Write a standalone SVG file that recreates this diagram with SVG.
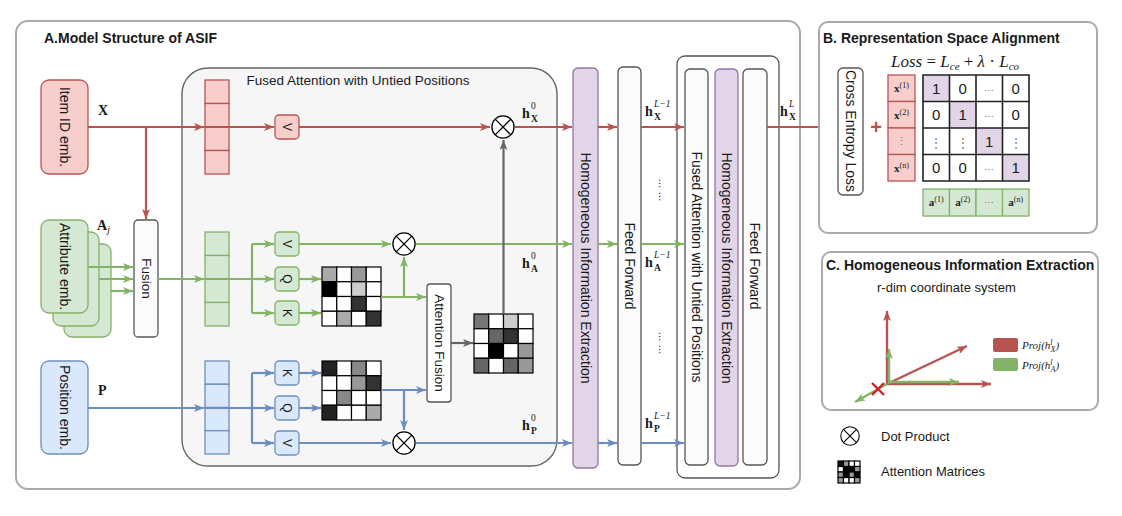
<svg xmlns="http://www.w3.org/2000/svg" width="1122" height="516" viewBox="0 0 1122 516">
<defs>
<style>
text{font-family:"Liberation Sans",Arial,sans-serif;fill:#1a1a1a}
.rot{text-anchor:middle;dominant-baseline:central}
.t14{font-size:14px}
.bold{font-weight:bold}
.serif{font-family:"Liberation Serif","Times New Roman",serif}
.red{fill:#f8cecc;stroke:#b85450;stroke-width:1.3}
.grn{fill:#d5e8d4;stroke:#82b366;stroke-width:1.3}
.blu{fill:#dae8fc;stroke:#6c8ebf;stroke-width:1.3}
.pur{fill:#e1d5e7;stroke:#9673a6;stroke-width:1.3}
.wht{fill:#fbfbfb;stroke:#555;stroke-width:1.3}
.lr{stroke:#b85450;stroke-width:2.2;fill:none}
.lg{stroke:#82b366;stroke-width:2.2;fill:none}
.lb{stroke:#6c8ebf;stroke-width:2.2;fill:none}
.lk{stroke:#666;stroke-width:2.2;fill:none}
.mc rect{stroke:#000;stroke-width:1.2}
.dot{fill:#fff;stroke:#000;stroke-width:1.4}
.panel{fill:#fff;stroke:#aaa;stroke-width:2}
</style>
<marker id="aR" viewBox="0 0 10 8" refX="10" refY="4" markerWidth="10" markerHeight="8" markerUnits="userSpaceOnUse" orient="auto"><path d="M0,0 L10,4 L0,8 L2.5,4 z" fill="#b85450"/></marker>
<marker id="aG" viewBox="0 0 10 8" refX="10" refY="4" markerWidth="10" markerHeight="8" markerUnits="userSpaceOnUse" orient="auto"><path d="M0,0 L10,4 L0,8 L2.5,4 z" fill="#82b366"/></marker>
<marker id="aB" viewBox="0 0 10 8" refX="10" refY="4" markerWidth="10" markerHeight="8" markerUnits="userSpaceOnUse" orient="auto"><path d="M0,0 L10,4 L0,8 L2.5,4 z" fill="#6c8ebf"/></marker>
<marker id="aK" viewBox="0 0 10 8" refX="10" refY="4" markerWidth="10" markerHeight="8" markerUnits="userSpaceOnUse" orient="auto"><path d="M0,0 L10,4 L0,8 L2.5,4 z" fill="#666"/></marker>
<symbol id="dotp" viewBox="-13 -13 26 26" overflow="visible"><circle r="12" class="dot"/><path d="M-8.5,-8.5 L8.5,8.5 M8.5,-8.5 L-8.5,8.5" stroke="#000" stroke-width="1.4"/></symbol>
</defs>
<rect width="1122" height="516" fill="#fff"/>

<!-- Panel A -->
<g id="panelA">
<rect x="16" y="21" width="784" height="468" rx="12" class="panel"/>
<text x="44" y="43" class="t14 bold">A.Model Structure of ASIF</text>
</g>
<g id="fusedAttention">
<rect x="182" y="68" width="375" height="398" rx="26" fill="#f6f6f6" stroke="#666" stroke-width="1.4"/>
<text x="358" y="85" text-anchor="middle" style="font-size:13.5px">Fused Attention with Untied Positions</text>
</g>

<g id="itemEmb">
<rect x="41" y="80" width="47" height="94" rx="8" class="red"/>
<text transform="translate(64.5,127) rotate(90)" class="rot t14">Item ID emb.</text>
<text x="98" y="115" class="serif bold t14">X</text>
</g>
<g id="attrEmb">
<rect x="64" y="244" width="47" height="93" rx="8" class="grn"/>
<rect x="53" y="232" width="46" height="94" rx="8" class="grn"/>
<rect x="41" y="220" width="47" height="93" rx="8" class="grn"/>
<text transform="translate(64.5,266.5) rotate(90)" class="rot t14">Attribute emb.</text>
<text x="97" y="230" class="serif bold t14">A<tspan font-style="italic" font-weight="normal" font-size="10" dy="3">j</tspan></text>
</g>
<g id="posEmb">
<rect x="41" y="361" width="47" height="93" rx="8" class="blu"/>
<text transform="translate(64.5,407.5) rotate(90)" class="rot t14">Position emb.</text>
<text x="98" y="395" class="serif bold t14">P</text>
</g>
<g id="fusion">
<rect x="134" y="220" width="24" height="117" rx="4" class="wht" fill="#fff"/>
<text transform="translate(146,278.5) rotate(90)" class="rot" style="font-size:13.5px">Fusion</text>
</g>

<g id="vecX">
<rect x="205" y="80" width="24" height="23.5" class="red"/><rect x="205" y="103.5" width="24" height="23.5" class="red"/><rect x="205" y="127" width="24" height="23.5" class="red"/><rect x="205" y="150.5" width="24" height="23.5" class="red"/>
</g>
<g id="vecA">
<rect x="205" y="232" width="24" height="23.5" class="grn"/><rect x="205" y="255.5" width="24" height="23.5" class="grn"/><rect x="205" y="279" width="24" height="23.5" class="grn"/><rect x="205" y="302.5" width="24" height="23.5" class="grn"/>
</g>
<g id="vecP">
<rect x="205" y="361" width="24" height="23.25" class="blu"/><rect x="205" y="384.25" width="24" height="23.25" class="blu"/><rect x="205" y="407.5" width="24" height="23.25" class="blu"/><rect x="205" y="430.75" width="24" height="23.25" class="blu"/>
</g>

<g id="qkv">
<rect x="275" y="115" width="24" height="24" rx="4" class="red"/><text transform="translate(287,127) rotate(90)" class="rot" font-size="12">V</text>
<rect x="275" y="232" width="24" height="24" rx="4" class="grn"/><text transform="translate(287,244) rotate(90)" class="rot" font-size="12">V</text>
<rect x="275" y="267" width="24" height="24" rx="4" class="grn"/><text transform="translate(287,279) rotate(90)" class="rot" font-size="12">Q</text>
<rect x="275" y="301" width="24" height="24" rx="4" class="grn"/><text transform="translate(287,313) rotate(90)" class="rot" font-size="12">K</text>
<rect x="275" y="361" width="24" height="24" rx="4" class="blu"/><text transform="translate(287,373) rotate(90)" class="rot" font-size="12">K</text>
<rect x="275" y="396" width="24" height="24" rx="4" class="blu"/><text transform="translate(287,408) rotate(90)" class="rot" font-size="12">Q</text>
<rect x="275" y="431" width="24" height="24" rx="4" class="blu"/><text transform="translate(287,443) rotate(90)" class="rot" font-size="12">V</text>
</g>

<g id="matA" class="mc" transform="translate(322,267)">
<rect x="0" y="0" width="14.75" height="14.75" fill="#aaa"/><rect x="14.75" y="0" width="14.75" height="14.75" fill="#fff"/><rect x="29.5" y="0" width="14.75" height="14.75" fill="#999"/><rect x="44.25" y="0" width="14.75" height="14.75" fill="#fff"/>
<rect x="0" y="14.75" width="14.75" height="14.75" fill="#000"/><rect x="14.75" y="14.75" width="14.75" height="14.75" fill="#fff"/><rect x="29.5" y="14.75" width="14.75" height="14.75" fill="#ccc"/><rect x="44.25" y="14.75" width="14.75" height="14.75" fill="#fff"/>
<rect x="0" y="29.5" width="14.75" height="14.75" fill="#fff"/><rect x="14.75" y="29.5" width="14.75" height="14.75" fill="#fff"/><rect x="29.5" y="29.5" width="14.75" height="14.75" fill="#333"/><rect x="44.25" y="29.5" width="14.75" height="14.75" fill="#fff"/>
<rect x="0" y="44.25" width="14.75" height="14.75" fill="#fff"/><rect x="14.75" y="44.25" width="14.75" height="14.75" fill="#aaa"/><rect x="29.5" y="44.25" width="14.75" height="14.75" fill="#fff"/><rect x="44.25" y="44.25" width="14.75" height="14.75" fill="#333"/>
</g>
<g id="matP" class="mc" transform="translate(322,361)">
<rect x="0" y="0" width="14.75" height="14.75" fill="#222"/><rect x="14.75" y="0" width="14.75" height="14.75" fill="#fff"/><rect x="29.5" y="0" width="14.75" height="14.75" fill="#888"/><rect x="44.25" y="0" width="14.75" height="14.75" fill="#fff"/>
<rect x="0" y="14.75" width="14.75" height="14.75" fill="#fff"/><rect x="14.75" y="14.75" width="14.75" height="14.75" fill="#fff"/><rect x="29.5" y="14.75" width="14.75" height="14.75" fill="#999"/><rect x="44.25" y="14.75" width="14.75" height="14.75" fill="#333"/>
<rect x="0" y="29.5" width="14.75" height="14.75" fill="#fff"/><rect x="14.75" y="29.5" width="14.75" height="14.75" fill="#888"/><rect x="29.5" y="29.5" width="14.75" height="14.75" fill="#fff"/><rect x="44.25" y="29.5" width="14.75" height="14.75" fill="#fff"/>
<rect x="0" y="44.25" width="14.75" height="14.75" fill="#222"/><rect x="14.75" y="44.25" width="14.75" height="14.75" fill="#fff"/><rect x="29.5" y="44.25" width="14.75" height="14.75" fill="#fff"/><rect x="44.25" y="44.25" width="14.75" height="14.75" fill="#aaa"/>
</g>
<g id="matF" class="mc" transform="translate(474,314)">
<rect x="0" y="0" width="14.75" height="14.75" fill="#777"/><rect x="14.75" y="0" width="14.75" height="14.75" fill="#fff"/><rect x="29.5" y="0" width="14.75" height="14.75" fill="#ccc"/><rect x="44.25" y="0" width="14.75" height="14.75" fill="#fff"/>
<rect x="0" y="14.75" width="14.75" height="14.75" fill="#fff"/><rect x="14.75" y="14.75" width="14.75" height="14.75" fill="#666"/><rect x="29.5" y="14.75" width="14.75" height="14.75" fill="#333"/><rect x="44.25" y="14.75" width="14.75" height="14.75" fill="#fff"/>
<rect x="0" y="29.5" width="14.75" height="14.75" fill="#fff"/><rect x="14.75" y="29.5" width="14.75" height="14.75" fill="#000"/><rect x="29.5" y="29.5" width="14.75" height="14.75" fill="#fff"/><rect x="44.25" y="29.5" width="14.75" height="14.75" fill="#999"/>
<rect x="0" y="44.25" width="14.75" height="14.75" fill="#666"/><rect x="14.75" y="44.25" width="14.75" height="14.75" fill="#fff"/><rect x="29.5" y="44.25" width="14.75" height="14.75" fill="#666"/><rect x="44.25" y="44.25" width="14.75" height="14.75" fill="#999"/>
</g>

<g id="attnFusion">
<rect x="427" y="284" width="24" height="118" rx="3" fill="#fff" stroke="#555" stroke-width="1.3"/>
<text transform="translate(439,343) rotate(90)" class="rot" style="font-size:13.5px">Attention Fusion</text>
</g>

<g id="hie1">
<rect x="573" y="68" width="25" height="400" rx="5" class="pur"/>
<text transform="translate(585.5,268) rotate(90)" class="rot t14">Homogeneous Information Extraction</text>
</g>
<g id="ff1">
<rect x="618" y="67" width="23" height="398" rx="5" class="wht"/>
<text transform="translate(629.5,266) rotate(90)" class="rot t14">Feed Forward</text>
</g>
<g id="layerL">
<rect x="677" y="56" width="102" height="422" rx="8" fill="#fff" stroke="#555" stroke-width="1.3"/>
<rect x="685" y="69" width="23" height="396" rx="5" class="wht"/>
<text transform="translate(696.5,267) rotate(90)" class="rot t14">Fused Attention with Untied Positions</text>
<rect x="715" y="69" width="23" height="397" rx="5" class="pur"/>
<text transform="translate(726.5,268) rotate(90)" class="rot t14">Homogeneous Information Extraction</text>
<rect x="743" y="69" width="24" height="396" rx="5" class="wht"/>
<text transform="translate(755,266) rotate(90)" class="rot t14">Feed Forward</text>
</g>

<g id="dots">
<use href="#dotp" x="491" y="115" width="24" height="24"/>
<use href="#dotp" x="392" y="232" width="24" height="24"/>
<use href="#dotp" x="392" y="431" width="24" height="24"/>
</g>

<g id="hlabels" class="serif">
<text x="522" y="118" class="serif bold t14">h</text><text x="531" y="109" class="serif" font-size="9.5">0</text><text x="531" y="122" class="serif bold" font-size="9.5">X</text>
<text x="522" y="268" class="serif bold t14">h</text><text x="531" y="259" class="serif" font-size="9.5">0</text><text x="531" y="272" class="serif bold" font-size="9.5">A</text>
<text x="522" y="430" class="serif bold t14">h</text><text x="531" y="421" class="serif" font-size="9.5">0</text><text x="531" y="434" class="serif bold" font-size="9.5">P</text>
<text x="645" y="116" class="serif bold t14">h</text><text x="654" y="107" class="serif" font-size="9.5" font-style="italic">L−1</text><text x="654" y="120" class="serif bold" font-size="9.5">X</text>
<text x="645" y="267" class="serif bold t14">h</text><text x="654" y="258" class="serif" font-size="9.5" font-style="italic">L−1</text><text x="654" y="271" class="serif bold" font-size="9.5">A</text>
<text x="645" y="428" class="serif bold t14">h</text><text x="654" y="419" class="serif" font-size="9.5" font-style="italic">L−1</text><text x="654" y="432" class="serif bold" font-size="9.5">P</text>
<text x="780" y="116" class="serif bold t14">h</text><text x="789" y="107" class="serif" font-size="9.5" font-style="italic">L</text><text x="789" y="120" class="serif bold" font-size="9.5">X</text>
<text transform="translate(662,190) rotate(90)" class="rot" font-size="10">… …</text>
<text transform="translate(662,343) rotate(90)" class="rot" font-size="10">… …</text>
</g>

<!-- Connectors -->
<g id="connectors">
<path class="lr" d="M88,127 H204" marker-end="url(#aR)"/>
<path class="lr" d="M205,127 H274" marker-end="url(#aR)"/>
<path class="lr" d="M146,127 V219" marker-end="url(#aR)"/>
<path class="lr" d="M299,127 H490" marker-end="url(#aR)"/>
<path class="lr" d="M515,127 H572" marker-end="url(#aR)"/>
<path class="lr" d="M598,127 H617" marker-end="url(#aR)"/>
<path class="lr" d="M641,127 H684" marker-end="url(#aR)"/>
<path class="lr" d="M767,127 H837" marker-end="url(#aR)"/>

<path class="lg" d="M88,267 H133" marker-end="url(#aG)"/>
<path class="lg" d="M99,279 H133" marker-end="url(#aG)"/>
<path class="lg" d="M111,291 H133" marker-end="url(#aG)"/>
<path class="lg" d="M158,279 H204" marker-end="url(#aG)"/>
<path class="lg" d="M205,279 H252 M252,244 V313"/>
<path class="lg" d="M252,244 H274" marker-end="url(#aG)"/>
<path class="lg" d="M252,279 H274" marker-end="url(#aG)"/>
<path class="lg" d="M252,313 H274" marker-end="url(#aG)"/>
<path class="lg" d="M299,244 H391" marker-end="url(#aG)"/>
<path class="lg" d="M416,244 H572" marker-end="url(#aG)"/>
<path class="lg" d="M299,279 H321" marker-end="url(#aG)"/>
<path class="lg" d="M299,313 H321" marker-end="url(#aG)"/>
<path class="lg" d="M381,297 H426" marker-end="url(#aG)"/>
<path class="lg" d="M404,297 V257" marker-end="url(#aG)"/>
<path class="lg" d="M598,244 H617" marker-end="url(#aG)"/>
<path class="lg" d="M641,244 H684" marker-end="url(#aG)"/>

<path class="lb" d="M88,408 H204" marker-end="url(#aB)"/>
<path class="lb" d="M205,408 H252 M252,373 V443"/>
<path class="lb" d="M252,373 H274" marker-end="url(#aB)"/>
<path class="lb" d="M252,408 H274" marker-end="url(#aB)"/>
<path class="lb" d="M252,443 H274" marker-end="url(#aB)"/>
<path class="lb" d="M299,373 H321" marker-end="url(#aB)"/>
<path class="lb" d="M299,408 H321" marker-end="url(#aB)"/>
<path class="lb" d="M381,390 H426" marker-end="url(#aB)"/>
<path class="lb" d="M404,390 V430" marker-end="url(#aB)"/>
<path class="lb" d="M299,443 H391" marker-end="url(#aB)"/>
<path class="lb" d="M416,443 H572" marker-end="url(#aB)"/>
<path class="lb" d="M598,443 H617" marker-end="url(#aB)"/>
<path class="lb" d="M641,443 H684" marker-end="url(#aB)"/>

<path class="lk" d="M451,343 H473" marker-end="url(#aK)"/>
<path class="lk" d="M503.5,314 V140" marker-end="url(#aK)"/>
</g>

<!-- Panel B -->
<g id="panelB">
<rect x="819" y="22" width="278" height="211" rx="9" class="panel"/>
<text x="823" y="43" class="t14 bold">B. Representation Space Alignment</text>
<text x="891" y="67" class="serif" font-size="17"><tspan font-style="italic">Loss</tspan> = <tspan font-style="italic">L</tspan><tspan font-style="italic" font-size="11" dy="3">ce</tspan><tspan dy="-3"> + </tspan><tspan font-style="italic">λ</tspan> · <tspan font-style="italic">L</tspan><tspan font-style="italic" font-size="11" dy="3">co</tspan></text>
</g>
<g id="crossEntropy">
<rect x="838" y="68" width="25" height="127" rx="5" fill="#fff" stroke="#555" stroke-width="1.3"/>
<text transform="translate(850.5,131) rotate(90)" class="rot t14">Cross Entropy Loss</text>
</g>
<text x="876" y="134" text-anchor="middle" font-size="20" font-weight="bold" style="fill:#b85450">+</text>
<g id="xcol">
<rect x="888" y="75" width="27" height="26.5" class="red"/><rect x="888" y="101.5" width="27" height="26.5" class="red"/><rect x="888" y="128" width="27" height="26.5" class="red"/><rect x="888" y="154.5" width="27" height="26.5" class="red"/>
<text x="901.5" y="92" text-anchor="middle" class="serif" font-size="11"><tspan font-weight="bold">x</tspan><tspan font-size="8" dy="-4">(1)</tspan></text>
<text x="901.5" y="118.5" text-anchor="middle" class="serif" font-size="11"><tspan font-weight="bold">x</tspan><tspan font-size="8" dy="-4">(2)</tspan></text>
<text x="901.5" y="145" text-anchor="middle" class="serif" font-size="11" style="fill:#777">⋮</text>
<text x="901.5" y="171.5" text-anchor="middle" class="serif" font-size="11"><tspan font-weight="bold">x</tspan><tspan font-size="8" dy="-4">(n)</tspan></text>
</g>
<g id="simMatrix">
<rect x="923" y="75" width="26.5" height="26.5" fill="#e1d5e7"/>
<rect x="949.5" y="101.5" width="26.5" height="26.5" fill="#e1d5e7"/>
<rect x="976" y="128" width="26.5" height="26.5" fill="#e1d5e7"/>
<rect x="1002.5" y="154.5" width="26.5" height="26.5" fill="#e1d5e7"/>
<path d="M923,75 H1029 V181 H923 Z M949.5,75 V181 M976,75 V181 M1002.5,75 V181 M923,101.5 H1029 M923,128 H1029 M923,154.5 H1029" fill="none" stroke="#222" stroke-width="1.6"/>
<g font-size="15" text-anchor="middle">
<text x="936.25" y="93.5">1</text><text x="962.75" y="93.5">0</text><text x="989.25" y="93.5" font-size="10" style="fill:#777">⋯</text><text x="1015.75" y="93.5">0</text>
<text x="936.25" y="120">0</text><text x="962.75" y="120">1</text><text x="989.25" y="120" font-size="10" style="fill:#777">⋯</text><text x="1015.75" y="120">0</text>
<text x="936.25" y="146.5" font-size="12" style="fill:#777">⋮</text><text x="962.75" y="146.5" font-size="12" style="fill:#777">⋮</text><text x="989.25" y="146.5">1</text><text x="1015.75" y="146.5" font-size="12" style="fill:#777">⋮</text>
<text x="936.25" y="173">0</text><text x="962.75" y="173">0</text><text x="989.25" y="173" font-size="10" style="fill:#777">⋯</text><text x="1015.75" y="173">1</text>
</g>
</g>
<g id="arow">
<rect x="923" y="189" width="26.5" height="27" class="grn"/><rect x="949.5" y="189" width="26.5" height="27" class="grn"/><rect x="976" y="189" width="26.5" height="27" class="grn"/><rect x="1002.5" y="189" width="26.5" height="27" class="grn"/>
<text x="936.25" y="206" text-anchor="middle" class="serif" font-size="11"><tspan font-weight="bold">a</tspan><tspan font-size="8" dy="-4">(1)</tspan></text>
<text x="962.75" y="206" text-anchor="middle" class="serif" font-size="11"><tspan font-weight="bold">a</tspan><tspan font-size="8" dy="-4">(2)</tspan></text>
<text x="989.25" y="206" text-anchor="middle" font-size="10" style="fill:#777">⋯</text>
<text x="1015.75" y="206" text-anchor="middle" class="serif" font-size="11"><tspan font-weight="bold">a</tspan><tspan font-size="8" dy="-4">(n)</tspan></text>
</g>

<!-- Panel C -->
<g id="panelC">
<rect x="822" y="252" width="276" height="158" rx="9" class="panel"/>
<text x="826" y="270" class="t14 bold">C. Homogeneous Information Extraction</text>
<text x="877" y="292" font-size="13">r-dim coordinate system</text>
<g stroke-width="2.4" fill="none">
<path d="M887,384 V311" stroke="#b85450" marker-end="url(#aR)"/>
<path d="M887,384 H991" stroke="#b85450" marker-end="url(#aR)"/>
<path d="M887,384 L967,346" stroke="#b85450" marker-end="url(#aR)"/>
<path d="M889,384 V349" stroke="#82b366" marker-end="url(#aG)"/>
<path d="M889,382 H959" stroke="#82b366" marker-end="url(#aG)"/>
<path d="M887,384 L855,402" stroke="#82b366" marker-end="url(#aG)"/>
<path d="M872,383 L884,395 M884,383 L872,395" stroke="#d62020"/>
</g>
<rect x="993" y="338" width="25" height="14" rx="2" fill="#b85450"/>
<rect x="993" y="358" width="25" height="13" rx="2" fill="#82b366"/>
<text x="1022" y="349" class="serif" font-style="italic" font-size="11">Proj(h<tspan font-size="8" dy="-4">l</tspan><tspan font-size="8" dx="-2" dy="7">X</tspan><tspan dy="-3">)</tspan></text>
<text x="1022" y="369" class="serif" font-style="italic" font-size="11">Proj(h<tspan font-size="8" dy="-4">l</tspan><tspan font-size="8" dx="-2" dy="7">A</tspan><tspan dy="-3">)</tspan></text>
</g>

<!-- Legend -->
<g id="legend">
<use href="#dotp" x="840" y="426" width="20" height="20"/>
<text x="881" y="441" font-size="13">Dot Product</text>
<g class="mc" transform="translate(838,461)">
<rect x="0" y="0" width="5.5" height="5.5" fill="#111"/><rect x="5.5" y="0" width="5.5" height="5.5" fill="#999"/><rect x="11" y="0" width="5.5" height="5.5" fill="#fff"/><rect x="16.5" y="0" width="5.5" height="5.5" fill="#fff"/>
<rect x="0" y="5.5" width="5.5" height="5.5" fill="#fff"/><rect x="5.5" y="5.5" width="5.5" height="5.5" fill="#000"/><rect x="11" y="5.5" width="5.5" height="5.5" fill="#000"/><rect x="16.5" y="5.5" width="5.5" height="5.5" fill="#999"/>
<rect x="0" y="11" width="5.5" height="5.5" fill="#999"/><rect x="5.5" y="11" width="5.5" height="5.5" fill="#000"/><rect x="11" y="11" width="5.5" height="5.5" fill="#999"/><rect x="16.5" y="11" width="5.5" height="5.5" fill="#000"/>
<rect x="0" y="16.5" width="5.5" height="5.5" fill="#999"/><rect x="5.5" y="16.5" width="5.5" height="5.5" fill="#fff"/><rect x="11" y="16.5" width="5.5" height="5.5" fill="#fff"/><rect x="16.5" y="16.5" width="5.5" height="5.5" fill="#999"/>
</g>
<text x="881" y="476" font-size="13">Attention Matrices</text>
</g>
</svg>
